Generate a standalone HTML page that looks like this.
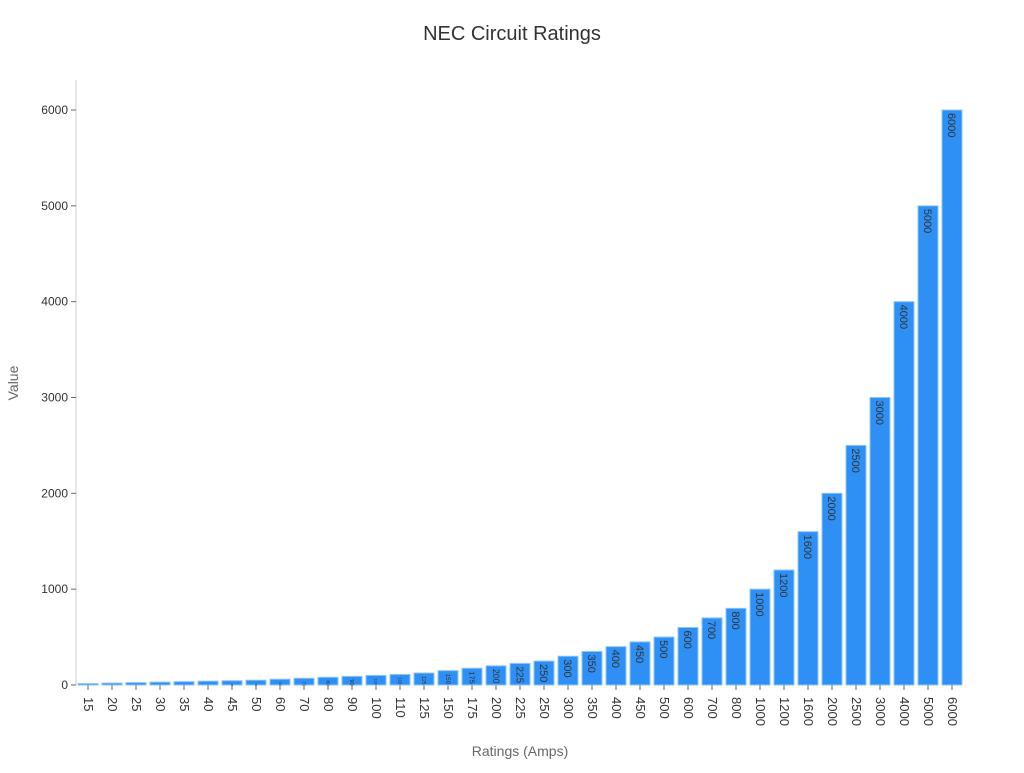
<!DOCTYPE html>
<html><head><meta charset="utf-8"><style>
body{margin:0;background:#fff;font-family:"Liberation Sans","DejaVu Sans",sans-serif}
</style></head><body>
<svg id="chart" width="1024" height="768" xmlns="http://www.w3.org/2000/svg">
<text x="512" y="40" text-anchor="middle" font-size="20" fill="#333">NEC Circuit Ratings</text>
<text transform="translate(18,383) rotate(-90)" text-anchor="middle" font-size="14" fill="#666">Value</text>
<text x="520" y="756" text-anchor="middle" font-size="14" fill="#666">Ratings (Amps)</text>
<g id="axes"></g><g id="bars"></g>
</svg>
<script>
const categories=["15","20","25","30","35","40","45","50","60","70","80","90","100","110","125","150","175","200","225","250","300","350","400","450","500","600","700","800","1000","1200","1600","2000","2500","3000","4000","5000","6000"];
const values=[15,20,25,30,35,40,45,50,60,70,80,90,100,110,125,150,175,200,225,250,300,350,400,450,500,600,700,800,1000,1200,1600,2000,2500,3000,4000,5000,6000];
const yTicks=[0,1000,2000,3000,4000,5000,6000];
const NS="http://www.w3.org/2000/svg";
const x0=76,x1=964,y0=685,yTop=110,yMaxVal=6000;
const band=(x1-x0)/categories.length;
const xs=i=>x0+band*i;
const ys=v=>y0-(v/yMaxVal)*(y0-yTop);
function mk(t,a,p){const e=document.createElementNS(NS,t);for(const k in a)e.setAttribute(k,a[k]);p.appendChild(e);return e;}
const axes=document.getElementById('axes'),bars=document.getElementById('bars');
const yl=mk('line',{x1:x0,x2:x0,y1:80,y2:y0,stroke:'#ccc'},axes);


yTicks.forEach(t=>{
  const tk=mk('line',{x1:x0-5,x2:x0,y1:ys(t),y2:ys(t),stroke:'#666'},axes);
  
  
  const tx=mk('text',{x:x0-8,y:ys(t)+4,'text-anchor':'end','font-size':12,fill:'#333'},axes);
  tx.textContent=t;
  
  
});
categories.forEach((c,i)=>{
  const cx=xs(i)+band/2;
  const tk=mk('line',{x1:cx,x2:cx,y1:y0,y2:y0+5,stroke:'#666'},axes);
  
  
  const tx=mk('text',{transform:`translate(${cx-4},${y0+12}) rotate(90)`,'font-size':13,fill:'#333'},axes);
  tx.textContent=c;
  
  
  const v=values[i],top=ys(v),h=y0-top;
  const r=mk('rect',{x:xs(i)+2,y:top,width:band-4,height:h,fill:'#2e90f5',stroke:'#8cc4fa','stroke-width':1},bars);
  
  
  const fs=Math.min(11,h/(String(v).length*0.65)-1);
  if(fs>2){
    const lb=mk('text',{transform:`translate(${cx-fs*0.35},${top+3}) rotate(90)`,'font-size':fs,fill:'#333'},bars);
    lb.textContent=v;
    
    
  }
});
</script>
</body></html>
